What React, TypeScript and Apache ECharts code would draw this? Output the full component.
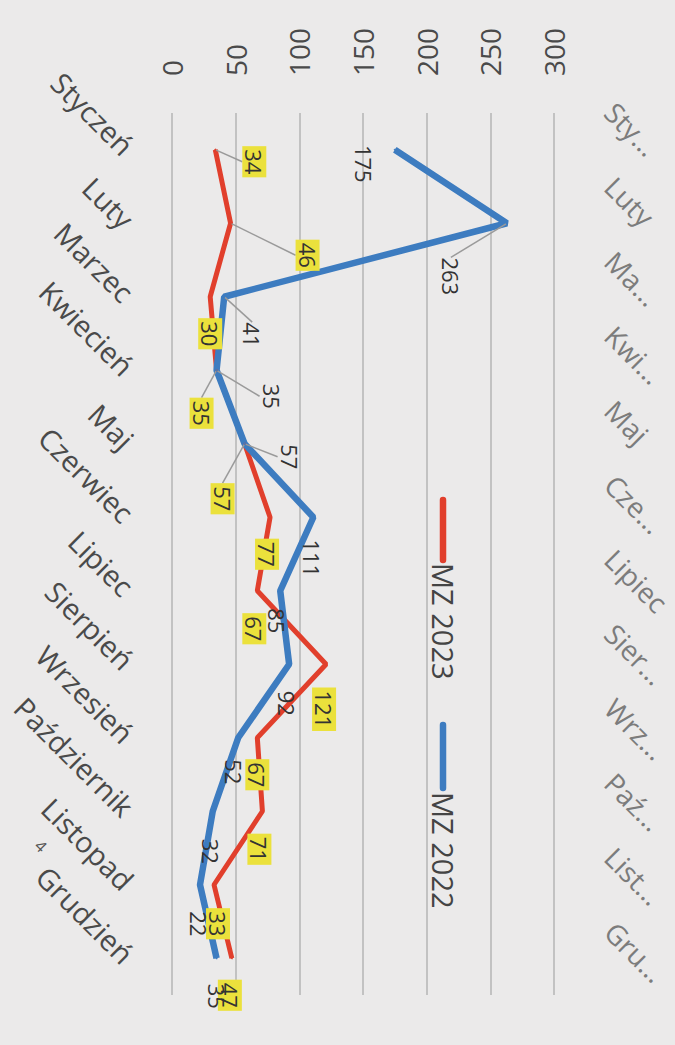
import React, { useEffect, useRef } from "react";
import * as echarts from "echarts";

const months = ["Styczeń", "Luty", "Marzec", "Kwiecień", "Maj", "Czerwiec", "Lipiec", "Sierpień", "Wrzesień", "Październik", "Listopad", "Grudzień"];
const ghostMonths = ["Sty...", "Luty", "Ma...", "Kwi...", "Maj", "Cze...", "Lipiec", "Sier...", "Wrz...", "Paź...", "List...", "Gru..."];
const mz2023 = [34, 46, 30, 35, 57, 77, 67, 121, 67, 71, 33, 47];
const mz2022 = [175, 263, 41, 35, 57, 111, 85, 92, 52, 32, 22, 35];
const valueMin = 0;
const valueMax = 300;
const valueStep = 50;
const seriesNames = ["MZ 2023", "MZ 2022"];
const pageNumber = "4";

// label placement (screen px from point to label centre)
const offsets2023 = [[39, 12], [77, 32], [0, 37], [-15, 43], [-22, 55], [-3, 37], [-3, 38], [-2, 45], [0, 37], [-3, 38], [4, 39], [-2, 37]];
const offsets2022 = [[-31, 14], [-56, 53], [28, 38], [55, 26], [45, 13], [-1, 41], [-3, 30], [-2, 39], [-4, 34], [-2, 40], [-1, 39], [0, 38]];
const leaders2023 = [0, 1, 3, 4];
const leaders2022 = [1, 2, 3, 4];

const RED = "#e13f2c";
const BLUE = "#3d7cc0";
const FONT = "Open Sans";

function makeLayout(offsets: number[][]) {
  return (params: any) => {
    const o = offsets[params.dataIndex] || [0, 0];
    const r = params.rect;
    const cx = r.x + r.width / 2;
    const cy = r.y + r.height / 2;
    return { x: cx + o[0], y: cy + o[1], rotate: -90, align: "center", verticalAlign: "middle" };
  };
}

export default function App() {
  const ref = useRef<HTMLDivElement>(null);
  useEffect(() => {
    if (!ref.current) return;
    const chart = echarts.init(ref.current, null, { renderer: "svg" });
    const option: any = {
      animation: false,
      backgroundColor: "#ebeaea",
      grid: [
        { left: 172, right: 121, top: 113, bottom: 50 },
        { left: 172, right: 121, top: 70, bottom: 81 },
      ],
      xAxis: [
        {
          type: "value",
          gridIndex: 0,
          position: "top",
          min: valueMin,
          max: valueMax,
          interval: valueStep,
          axisLine: { show: false },
          axisTick: { show: false },
          axisLabel: { rotate: -90, margin: 37, fontSize: 28, color: "#4a4a4a", fontFamily: FONT },
          splitLine: { show: true, lineStyle: { color: "#b4b4b4", width: 1.5 } },
        },
        { type: "value", gridIndex: 1, show: false, min: valueMin, max: valueMax },
      ],
      yAxis: [
        {
          type: "category",
          gridIndex: 0,
          data: months,
          inverse: true,
          boundaryGap: true,
          position: "left",
          axisLine: { show: false },
          axisTick: { show: false },
          splitLine: { show: false },
          axisLabel: { rotate: -45, margin: 43, fontSize: 29, color: "#4a4a4a", fontFamily: FONT, interval: 0 },
        },
        {
          type: "category",
          gridIndex: 1,
          data: ghostMonths,
          inverse: true,
          boundaryGap: true,
          position: "right",
          axisLine: { show: false },
          axisTick: { show: false },
          splitLine: { show: false },
          axisLabel: { rotate: -45, margin: 77, fontSize: 28, color: "#7c7c7c", fontFamily: FONT, interval: 0 },
        },
      ],
      series: [
        {
          name: seriesNames[0],
          type: "line",
          xAxisIndex: 0,
          yAxisIndex: 0,
          data: mz2023.map((v, i) => ({ value: v, labelLine: { show: leaders2023.includes(i) } })),
          symbol: "circle",
          symbolSize: 2,
          showSymbol: true,
          itemStyle: { color: RED },
          lineStyle: { color: RED, width: 5 },
          label: {
            show: true,
            fontSize: 22,
            fontFamily: FONT,
            color: "#333",
            backgroundColor: "#ebe13c",
            padding: [0, 3],
            lineHeight: 24,
          },
          labelLine: { show: false, lineStyle: { color: "#9a9a9a", width: 1.5 } },
          labelLayout: makeLayout(offsets2023),
        },
        {
          name: seriesNames[1],
          type: "line",
          xAxisIndex: 0,
          yAxisIndex: 0,
          data: mz2022.map((v, i) => ({ value: v, labelLine: { show: leaders2022.includes(i) } })),
          symbol: "circle",
          symbolSize: 2,
          showSymbol: true,
          itemStyle: { color: BLUE },
          lineStyle: { color: BLUE, width: 6.5 },
          label: {
            show: true,
            fontSize: 22,
            fontFamily: FONT,
            color: "#333",
            lineHeight: 24,
          },
          labelLine: { show: false, lineStyle: { color: "#9a9a9a", width: 1.5 } },
          labelLayout: makeLayout(offsets2022),
        },
      ],
      graphic: [
        {
          type: "group",
          x: 443,
          y: 500,
          rotation: -Math.PI / 2,
          children: [
            { type: "line", shape: { x1: 0, y1: 0, x2: 60, y2: 0 }, style: { stroke: RED, lineWidth: 6.5, lineCap: "round" } },
            { type: "text", x: 63, y: 0, style: { text: seriesNames[0], fontSize: 29, fontFamily: FONT, fill: "#444", align: "left", verticalAlign: "middle" } },
            { type: "line", shape: { x1: 225, y1: 0, x2: 288, y2: 0 }, style: { stroke: BLUE, lineWidth: 6.5, lineCap: "round" } },
            { type: "text", x: 292, y: 0, style: { text: seriesNames[1], fontSize: 29, fontFamily: FONT, fill: "#444", align: "left", verticalAlign: "middle" } },
          ],
        },
        {
          type: "text",
          x: 41,
          y: 846,
          rotation: -Math.PI / 4,
          style: { text: pageNumber, fontSize: 16, fontFamily: FONT, fill: "#555", align: "center", verticalAlign: "middle" },
        },
      ],
    };
    chart.setOption(option);
    return () => chart.dispose();
  }, []);
  return (
    <div
      ref={ref}
      style={{ position: "fixed", left: 0, top: 0, width: 675, height: 1045, background: "#ebeaea" }}
    />
  );
}
